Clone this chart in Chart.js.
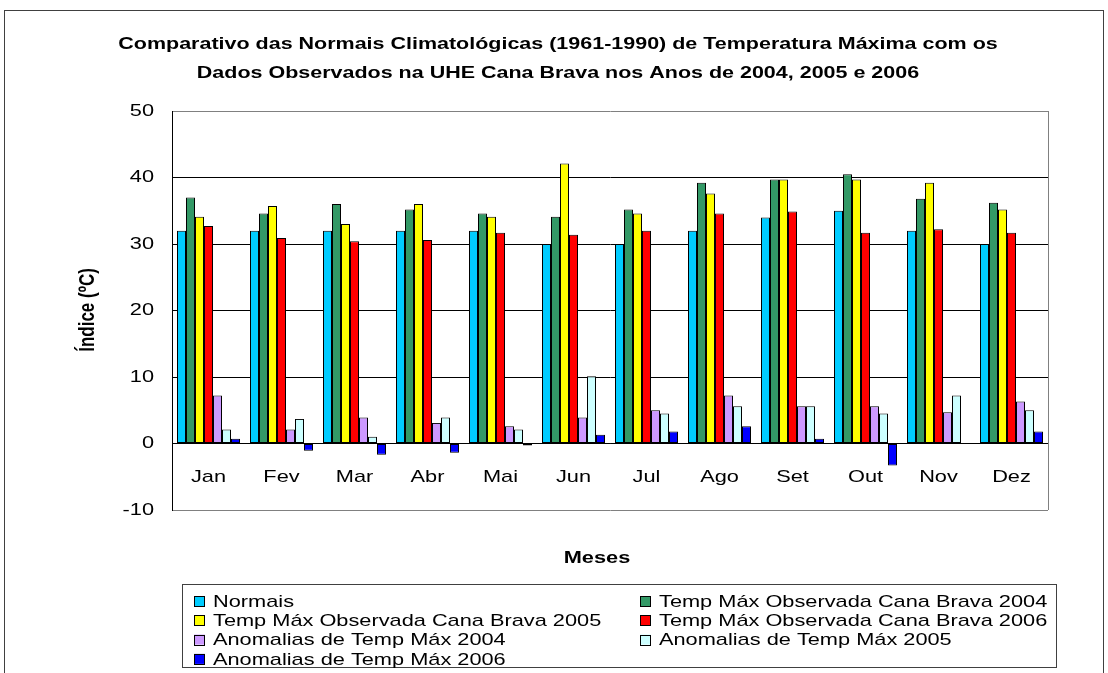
<!DOCTYPE html>
<html>
<head>
<meta charset="utf-8">
<title>Normais Climatológicas - UHE Cana Brava</title>
<script src="https://cdn.jsdelivr.net/npm/chart.js@4/dist/chart.umd.min.js"></script>
<style>
  body { margin: 0; background: #fff; }
  canvas { display: block; }
</style>
</head>
<body>
<canvas id="grafico" width="1108" height="673"></canvas>
<script>
// dados
let meses = ['Jan', 'Fev', 'Mar', 'Abr', 'Mai', 'Jun', 'Jul', 'Ago', 'Set', 'Out', 'Nov', 'Dez'];
let normais = [32, 32, 32, 32, 32, 30, 30, 32, 34, 35, 32, 30];
let obs2004 = [37.0, 34.6, 36.0, 35.2, 34.6, 34.1, 35.2, 39.2, 39.7, 40.5, 36.8, 36.2];
let obs2005 = [34.1, 35.7, 33.0, 36.0, 34.1, 42.1, 34.6, 37.6, 39.7, 39.7, 39.2, 35.2];
let obs2006 = [32.7, 30.9, 30.4, 30.6, 31.7, 31.4, 32.0, 34.6, 34.9, 31.7, 32.2, 31.7];
let anom2004 = [7.2, 2.1, 3.9, 3.1, 2.6, 3.9, 5.0, 7.2, 5.6, 5.6, 4.7, 6.3];
let anom2005 = [2.1, 3.7, 1.0, 3.9, 2.1, 10.1, 4.5, 5.6, 5.6, 4.5, 7.2, 5.0];
let anom2006 = [0.7, -1.1, -1.7, -1.4, -0.3, 1.3, 1.8, 2.6, 0.7, -3.3, null, 1.8];
let yTicks = [-10, 0, 10, 20, 30, 40, 50];

let titulo = ['Comparativo das Normais Climatológicas (1961-1990) de Temperatura Máxima com os',
              'Dados Observados na UHE Cana Brava nos Anos de 2004, 2005 e 2006'];

// the original text is stretched sideways, so text is drawn with a x scale
const SX = 1.28;
const FONTE = '"Liberation Sans", Arial, sans-serif';

function texto(ctx, str, x, y, align, font, rot) {
    ctx.save();
    ctx.translate(x, y);
    ctx.scale(SX, 1);
    if (rot) ctx.rotate(rot);
    ctx.font = font;
    ctx.fillStyle = '#000';
    ctx.textAlign = align;
    ctx.textBaseline = 'middle';
    ctx.fillText(str, 0, 0);
    ctx.restore();
}

function serie(label, data, cor) {
    return {
        label: label,
        data: data,
        backgroundColor: cor,
        borderColor: '#000',
        borderWidth: 1,
        borderSkipped: false,
        inflateAmount: 0,
        categoryPercentage: 63 / 73,
        barPercentage: 1.0
    };
}

const moldura = {
    id: 'moldura',
    beforeDraw(chart) {
        let ctx = chart.ctx;
        ctx.save();
        ctx.fillStyle = '#fff';
        ctx.fillRect(0, 0, chart.width, chart.height);
        ctx.strokeStyle = '#404040';
        ctx.lineWidth = 1;
        ctx.strokeRect(4.5, 10.5, 1099, 700);
        ctx.restore();
    },
    beforeDatasetsDraw(chart) {
        let a = chart.chartArea;
        let ctx = chart.ctx;
        ctx.save();
        ctx.strokeStyle = '#808080';
        ctx.lineWidth = 1;
        ctx.beginPath();
        ctx.moveTo(Math.round(a.right) + 0.5, a.top);
        ctx.lineTo(Math.round(a.right) + 0.5, a.bottom);
        ctx.stroke();
        ctx.restore();
    },
    afterDraw(chart) {
        let ctx = chart.ctx;
        let x = chart.scales.x, y = chart.scales.y;

        texto(ctx, titulo[0], 558, 44, 'center', 'bold 16.8px ' + FONTE);
        texto(ctx, titulo[1], 558, 73, 'center', 'bold 16.8px ' + FONTE);

        y.ticks.forEach(t => {
            texto(ctx, String(t.value), 154, y.getPixelForValue(t.value), 'right', '17px ' + FONTE);
        });
        meses.forEach((m, i) => {
            texto(ctx, m, x.getPixelForValue(i), 477, 'center', '17px ' + FONTE);
        });

        texto(ctx, 'Índice (ºC)', 88, 310, 'center', 'bold 17px ' + FONTE, -Math.PI / 2);
        texto(ctx, 'Meses', 597, 558, 'center', 'bold 17px ' + FONTE);

        // legenda em duas colunas
        ctx.save();
        ctx.strokeStyle = '#404040';
        ctx.lineWidth = 1;
        ctx.strokeRect(182.5, 584.5, 874, 83);
        chart.data.datasets.forEach((ds, i) => {
            let col = i % 2, lin = Math.floor(i / 2);
            let sx = col === 0 ? 194 : 640;
            let cy = 601 + lin * 19.3;
            ctx.fillStyle = ds.backgroundColor;
            ctx.fillRect(sx, cy - 5, 11, 10);
            ctx.strokeStyle = '#000';
            ctx.strokeRect(sx + 0.5, Math.round(cy - 5) + 0.5, 10, 10);
            texto(ctx, ds.label, sx + 19, cy + 1, 'left', '17px ' + FONTE);
        });
        ctx.restore();
    }
};

new Chart(document.getElementById('grafico'), {
    type: 'bar',
    data: {
        labels: meses,
        datasets: [
            serie('Normais', normais, '#00CCFF'),
            serie('Temp Máx Observada Cana Brava 2004', obs2004, '#339966'),
            serie('Temp Máx Observada Cana Brava 2005', obs2005, '#FFFF00'),
            serie('Temp Máx Observada Cana Brava 2006', obs2006, '#FF0000'),
            serie('Anomalias de Temp Máx 2004', anom2004, '#CC99FF'),
            serie('Anomalias de Temp Máx 2005', anom2005, '#CCFFFF'),
            serie('Anomalias de Temp Máx 2006', anom2006, '#0000FF')
        ]
    },
    options: {
        responsive: false,
        animation: false,
        devicePixelRatio: 1,
        layout: { padding: { left: 60, right: 60, top: 111, bottom: 163 } },
        plugins: {
            legend: { display: false },
            title: { display: false },
            tooltip: { enabled: false }
        },
        scales: {
            x: {
                type: 'category',
                position: { y: 0 },
                grid: { display: false },
                ticks: { display: false },
                border: { color: '#000', width: 1 }
            },
            y: {
                min: -10,
                max: 50,
                afterBuildTicks: s => { s.ticks = yTicks.map(v => ({ value: v })); },
                afterFit: s => { s.width = 112; },
                ticks: { display: false },
                grid: {
                    drawTicks: false,
                    color: c => (c.tick && (c.tick.value === 50 || c.tick.value === -10)) ? '#808080' : '#000',
                    lineWidth: 1
                },
                border: { color: '#000', width: 1 }
            }
        }
    },
    plugins: [moldura]
});
</script>
</body>
</html>
